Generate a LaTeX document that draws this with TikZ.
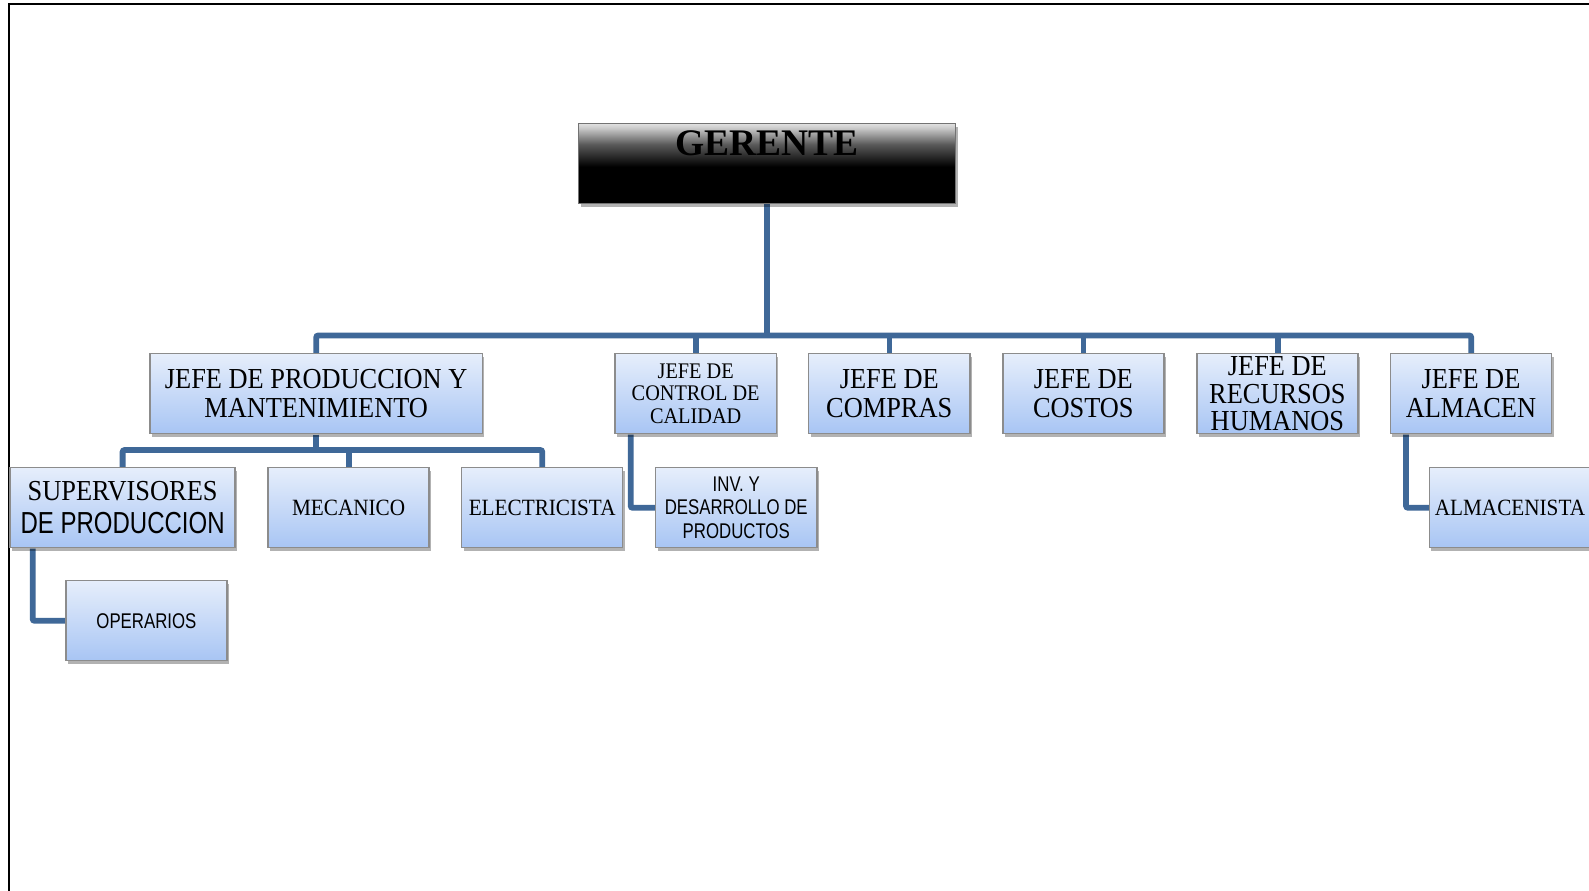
\documentclass[tikz,border=0pt]{standalone}
\usepackage{fontspec}
\setmainfont[FakeStretch=0.91]{Liberation Serif}
\newfontfamily\plainserif{Liberation Serif}
\newfontfamily\narrowsans[FakeStretch=0.79]{Liberation Sans}
\usetikzlibrary{shadows,backgrounds}
\definecolor{boxtop}{HTML}{E6EEFB}
\definecolor{boxbot}{HTML}{A8C5F4}
\definecolor{boxborder}{HTML}{8C8C8C}
\definecolor{conncol}{HTML}{3F6898}
\pgfdeclareverticalshading{gerenteshade}{100bp}{color(0bp)=(black); color(25bp)=(black); color(48bp)=(black); color(62bp)=(black!65); color(72bp)=(black!22); color(75bp)=(black!12); color(100bp)=(black!12)}
\tikzset{
  box/.style={draw=boxborder, line width=1.5pt, top color=boxtop, bottom color=boxbot,
    minimum width=159pt, minimum height=79pt, inner sep=0pt, align=center,
    drop shadow={shadow xshift=2pt, shadow yshift=-3pt, fill=black, opacity=0.3}},
  bigtxt/.style={font=\fontsize{28.6}{28}\selectfont},
  midtxt/.style={font=\fontsize{22}{22}\selectfont},
  smalltxt/.style={font=\fontsize{23}{23}\selectfont},
  sanstxt/.style={font=\narrowsans\fontsize{21}{23}\selectfont},
  conn/.style={draw=conncol, line width=5.8pt, rounded corners=2pt}
}
\begin{document}
\begin{tikzpicture}[x=1pt,y=-1pt,scale=1.0134,every node/.append style={transform shape}]
\useasboundingbox (0,0) rectangle (1568,879.2);
\begin{scope}[on background layer]
  \fill[white] (0,0) rectangle (1568,879.2);
\end{scope}
% frame
\coordinate (fbl) at (9,879.2);
\coordinate (ftl) at (9,4);
\coordinate (ftr) at (1568,4);
\draw[black, line width=1.8pt] (fbl) -- (ftl) -- (ftr);

% top
\node[draw=black!55, line width=1.5pt, shading=gerenteshade, minimum width=372pt, minimum height=79pt,
  drop shadow={shadow xshift=2pt, shadow yshift=-3pt, fill=black, opacity=0.3}] (ger) at (757,161.5) {};
\node[font=\plainserif\bfseries\fontsize{37}{40}\selectfont, anchor=base] (gert) at (757,153) {GERENTE};

% level 1
\node[box, bigtxt, minimum width=328pt] (prod) at (312,388.5) {JEFE DE PRODUCCION Y\\MANTENIMIENTO};
\node[box, midtxt] (cal) at (686.5,388.5) {JEFE DE\\CONTROL DE\\CALIDAD};
\node[box, bigtxt] (com) at (877.5,388.5) {JEFE DE\\COMPRAS};
\node[box, bigtxt] (cos) at (1069,388.5) {JEFE DE\\COSTOS};
\node[box, font=\fontsize{28.6}{27}\selectfont] (rrhh) at (1260.5,388.5) {JEFE DE\\RECURSOS\\HUMANOS};
\node[box, bigtxt] (alm) at (1451.5,388.5) {JEFE DE\\ALMACEN};

% level 2
\node[box, minimum width=222pt, font=\fontsize{28.6}{32}\selectfont] (sup) at (121,501) {SUPERVISORES\\{\narrowsans\fontsize{30}{32}\selectfont DE PRODUCCION}};
\node[box, smalltxt] (mec) at (344,501) {MECANICO};
\node[box, smalltxt] (ele) at (535,501) {ELECTRICISTA};
\node[box, sanstxt] (inv) at (726.5,501) {INV. Y\\DESARROLLO DE\\PRODUCTOS};
\node[box, smalltxt] (almc) at (1490,501) {ALMACENISTA};

% level 3
\node[box, sanstxt] (ope) at (144.5,612.5) {OPERARIOS};

% connectors
\coordinate (bus) at (757,331);
\coordinate (bus2) at (312,444);
\begin{scope}[on background layer]
  \draw[conn] (ger.south) -- (bus);
  \draw[conn] (prod.north) -- (prod.north |- bus) -- (alm.north |- bus) -- (alm.north);
  \draw[conn] (cal.north) -- (cal.north |- bus);
  \draw[conn] (com.north) -- (com.north |- bus);
  \draw[conn] (cos.north) -- (cos.north |- bus);
  \draw[conn] (rrhh.north) -- (rrhh.north |- bus);
  \draw[conn] (prod.south) -- (bus2);
  \draw[conn] (sup.north) -- (sup.north |- bus2) -- (ele.north |- bus2) -- (ele.north);
  \draw[conn] (mec.north) -- (mec.north |- bus2);
  \draw[conn] ([xshift=23pt]sup.south west) |- (ope.west);
  \draw[conn] ([xshift=16pt]cal.south west) |- (inv.west);
  \draw[conn] ([xshift=16pt]alm.south west) |- (almc.west);
\end{scope}
\end{tikzpicture}
\end{document}
